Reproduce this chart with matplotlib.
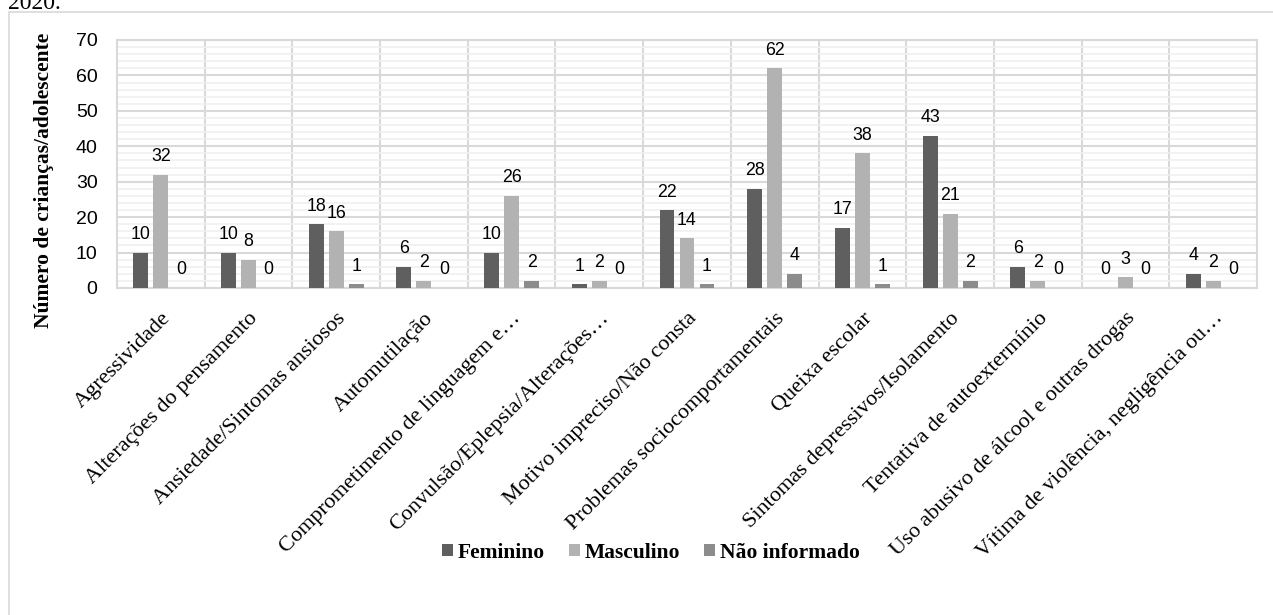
import matplotlib
matplotlib.use("Agg")
import matplotlib.pyplot as plt
import numpy as np
from matplotlib.patches import Rectangle

categories = [
    "Agressividade",
    "Alterações do pensamento",
    "Ansiedade/Sintomas ansiosos",
    "Automutilação",
    "Comprometimento de linguagem e…",
    "Convulsão/Eplepsia/Alterações…",
    "Motivo impreciso/Não consta",
    "Problemas sociocomportamentais",
    "Queixa escolar",
    "Sintomas depressivos/Isolamento",
    "Tentativa de autoextermínio",
    "Uso abusivo de álcool e outras drogas",
    "Vítima de violência, negligência ou…",
]
feminino = [10, 10, 18, 6, 10, 1, 22, 28, 17, 43, 6, 0, 4]
masculino = [32, 8, 16, 2, 26, 2, 14, 62, 38, 21, 2, 3, 2]
nao_informado = [0, 0, 1, 0, 2, 0, 1, 4, 1, 2, 0, 0, 0]
series_names = ["Feminino", "Masculino", "Não informado"]
yticks = [0, 10, 20, 30, 40, 50, 60, 70]

colors = ["#5f5f5f", "#b2b2b2", "#8c8c8c"]
serif = "Liberation Serif"
sans = "Liberation Sans"

W, H = 1273, 615
fig = plt.figure(figsize=(W / 100, H / 100), dpi=100)
ax = fig.add_axes([117 / W, 1 - 288 / H, (1257 - 117) / W, (288 - 40) / H])

# chart border
fig.patches.append(Rectangle((8.5 / W, -0.01), 1.2, 1 - 12.5 / H + 0.01,
                             transform=fig.transFigure, fill=False,
                             edgecolor="#d9d9d9", linewidth=1.2, zorder=0))
fig.text(8 / W, 1 - 9 / H, "2020.", fontsize=17, family=serif, va="baseline", ha="left")

n = len(categories)
x = np.arange(n)
bw = 0.17
step = 0.228
all_series = [feminino, masculino, nao_informado]
for i, (vals, name, c) in enumerate(zip(all_series, series_names, colors)):
    pos = x + (i - 1) * step
    ax.bar(pos, vals, width=bw, color=c, label=name, zorder=3)
    for p, v in zip(pos, vals):
        ax.annotate(str(v), (p, v), xytext=(0, 13), textcoords="offset points",
                    ha="center", va="center", fontsize=12.8, family=sans,
                    color="#000000", zorder=4)

ax.set_xlim(-0.5, n - 0.5)
ax.set_ylim(0, 70)
ax.set_yticks(yticks)
ax.set_yticks(np.arange(0, 71, 2), minor=True)
ax.set_yticklabels([str(t) for t in yticks], fontsize=14, family=sans)
ax.grid(axis="y", which="major", color="#d9d9d9", linewidth=1.5, zorder=1)
ax.grid(axis="y", which="minor", color="#f0f0f0", linewidth=1.2, zorder=0)
for b in np.arange(0.5, n - 0.5, 1):
    ax.axvline(b, color="#d9d9d9", linewidth=1.5, zorder=1)
for s in ax.spines.values():
    s.set_color("#d9d9d9")
    s.set_linewidth(1.5)
ax.tick_params(axis="both", which="both", length=0)
ax.tick_params(axis="y", pad=14)
ax.set_xticks(x)
ax.set_xticklabels(categories, rotation=45, ha="right", va="top",
                   rotation_mode="anchor", fontsize=16, family=serif)
ax.tick_params(axis="x", pad=15)
ax.set_ylabel("Número de crianças/adolescente", fontsize=15.5, family=serif,
              fontweight="bold")
ax.yaxis.set_label_coords((54 - 117) / 1140, (288 - 180) / 248)

ax.legend(loc="center", bbox_to_anchor=(651 / W, 1 - 553 / H),
          bbox_transform=fig.transFigure, ncol=3, frameon=False,
          prop={"family": serif, "weight": "bold", "size": 15.5},
          handlelength=0.5, handleheight=0.5, handletextpad=0.25,
          columnspacing=1.1)

fig.savefig("out.png", dpi=100)
